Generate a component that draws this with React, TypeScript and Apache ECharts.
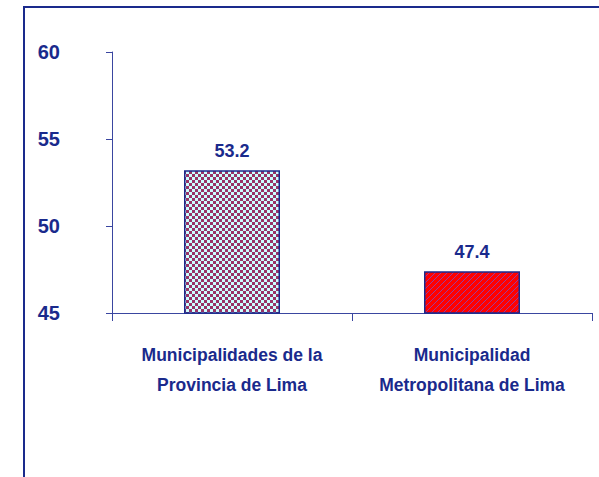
import React, { useEffect, useRef } from "react";
import * as echarts from "echarts";

const categories = ["Municipalidades de la\nProvincia de Lima", "Municipalidad\nMetropolitana de Lima"];
const values = [53.2, 47.4];
const yMin = 45;
const yMax = 60;
const yStep = 5;

const BLUE = "#1A2A8C";
const FONT = "'Liberation Sans', Arial, sans-serif";

function checkerPattern() {
  const c = document.createElement("canvas");
  c.width = 6;
  c.height = 6;
  const g = c.getContext("2d")!;
  g.fillStyle = "#CCFFFF";
  g.fillRect(0, 0, 6, 6);
  g.fillStyle = "#993366";
  g.fillRect(0, 0, 3, 3);
  g.fillRect(3, 3, 3, 3);
  return c;
}

function stripePattern() {
  const c = document.createElement("canvas");
  c.width = 6;
  c.height = 6;
  const g = c.getContext("2d")!;
  g.fillStyle = "#FF0000";
  g.fillRect(0, 0, 6, 6);
  g.strokeStyle = "#9A3C9C";
  g.lineWidth = 1;
  g.beginPath();
  g.moveTo(-1, 7);
  g.lineTo(7, -1);
  g.moveTo(-4, 4);
  g.lineTo(4, -4);
  g.moveTo(2, 10);
  g.lineTo(10, 2);
  g.stroke();
  return c;
}

export default function App() {
  const ref = useRef<HTMLDivElement>(null);
  useEffect(() => {
    if (!ref.current) return;
    const chart = echarts.init(ref.current, null, { renderer: "svg" });
    const patterns = [checkerPattern(), stripePattern()];
    chart.setOption({
      animation: false,
      backgroundColor: "#FFFFFF",
      grid: { left: 112, right: 7, top: 52, bottom: 164 },
      graphic: [
        {
          type: "rect",
          shape: { x: 24, y: 7, width: 620, height: 520 },
          style: { fill: "none", stroke: BLUE, lineWidth: 2 },
          silent: true,
        },
      ],
      xAxis: {
        type: "category",
        data: categories,
        boundaryGap: true,
        axisLine: { show: true, lineStyle: { color: "#3A46A0", width: 1 } },
        axisTick: { show: true, length: 8, alignWithLabel: false, lineStyle: { color: "#3A46A0" } },
        axisLabel: {
          color: BLUE,
          fontFamily: FONT,
          fontWeight: "bold",
          fontSize: 17.5,
          lineHeight: 30,
          margin: 27,
          interval: 0,
        },
      },
      yAxis: {
        type: "value",
        min: yMin,
        max: yMax,
        interval: yStep,
        axisLine: { show: true, lineStyle: { color: "#3A46A0", width: 1 } },
        axisTick: { show: true, length: 6, lineStyle: { color: "#3A46A0" } },
        splitLine: { show: false },
        axisLabel: {
          color: BLUE,
          fontFamily: FONT,
          fontWeight: "bold",
          fontSize: 20,
          margin: 52,
        },
      },
      series: [
        {
          type: "bar",
          barWidth: "40%",
          data: values.map((v, i) => ({
            value: v,
            itemStyle: {
              color: { image: patterns[i], repeat: "repeat" },
              borderColor: BLUE,
              borderWidth: 1.5,
            },
          })),
          label: {
            show: true,
            position: "top",
            distance: 10,
            color: BLUE,
            fontFamily: FONT,
            fontWeight: "bold",
            fontSize: 18,
            formatter: (p: any) => p.value.toFixed(1),
          },
        },
      ],
    });
    return () => chart.dispose();
  }, []);
  return (
    <div
      ref={ref}
      style={{ position: "fixed", left: 0, top: 0, width: 599, height: 477 }}
    />
  );
}
